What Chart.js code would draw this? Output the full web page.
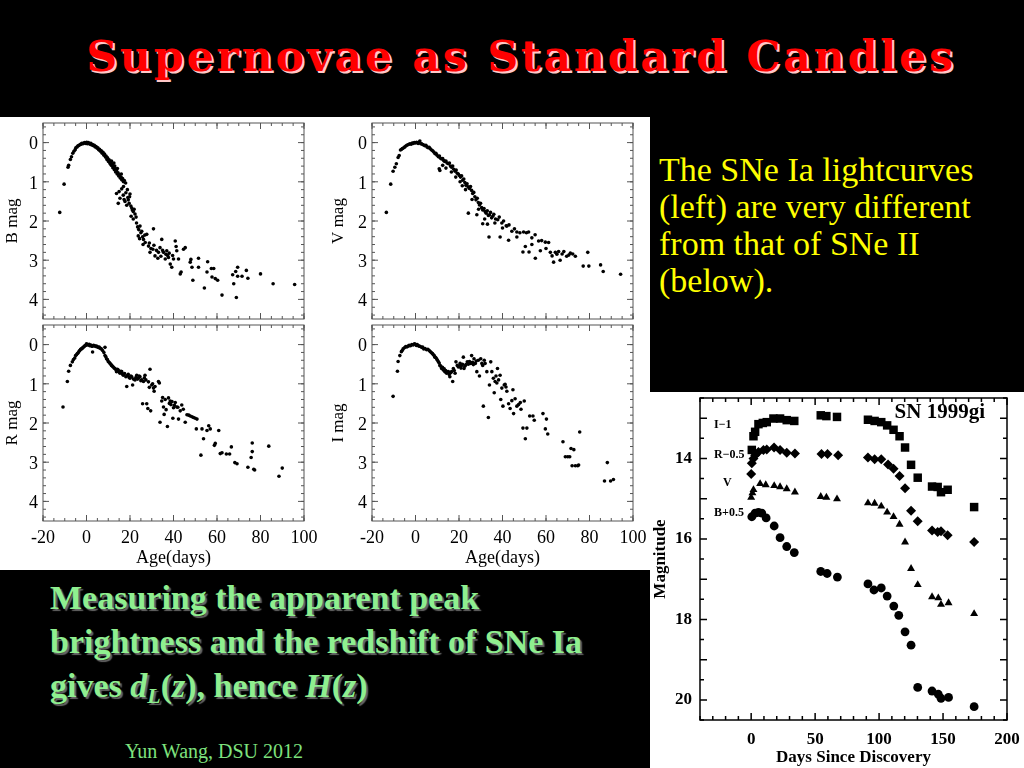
<!DOCTYPE html>
<html>
<head>
<meta charset="utf-8">
<script src="https://cdn.jsdelivr.net/npm/chart.js@4.4.1/dist/chart.umd.min.js"></script>
<style>
  body { margin: 0; width: 1024px; height: 768px; background: #000; position: relative; overflow: hidden; }
  canvas, div { position: absolute; }
  #title { left: 9px; top: 31px; width: 1024px; text-align: center; font-family: "DejaVu Serif", serif; font-weight: bold; font-size: 43px; letter-spacing: 2.6px; color: #ff0000; text-shadow: 2px 2px 0 #ffc8c8; white-space: nowrap; }
  #leftBg { left: 0; top: 117px; width: 650px; height: 453px; background: #fff; }
  #snBg { left: 650px; top: 392px; width: 374px; height: 376px; background: #fff; }
  #note { left: 659px; top: 151px; font-family: "Liberation Serif", "Times New Roman", serif; font-size: 34px; line-height: 37px; color: #ffff00; white-space: nowrap; }
  #green { left: 50px; top: 576px; font-family: "Liberation Serif", "Times New Roman", serif; font-weight: bold; font-size: 34px; line-height: 44px; color: #8fef8f; text-shadow: 2px 2px 1px #666; white-space: nowrap; }
  #green sub { font-size: 22px; vertical-align: -6px; line-height: 0; }
  #footer { left: 125px; top: 741px; font-family: "Liberation Serif", "Times New Roman", serif; font-size: 20px; line-height: 20px; color: #7ee27e; white-space: nowrap; }
</style>
</head>
<body>
<div id="title">Supernovae as Standard Candles</div>
<div id="leftBg"></div>
<div id="snBg"></div>
<canvas id="panelB" width="326" height="206" style="left:0;top:117px"></canvas>
<canvas id="panelV" width="324" height="206" style="left:326px;top:117px"></canvas>
<canvas id="panelR" width="326" height="249" style="left:0;top:321px"></canvas>
<canvas id="panelI" width="324" height="249" style="left:326px;top:321px"></canvas>
<canvas id="sn1999gi" width="374" height="376" style="left:650px;top:392px"></canvas>
<div id="note">The SNe Ia lightcurves<br>(left) are very different<br>from that of SNe II<br>(below).</div>
<div id="green">Measuring the apparent peak<br>brightness and the redshift of SNe Ia<br>gives <i>d<sub>L</sub></i>(<i>z</i>), hence <i>H</i>(<i>z</i>)</div>
<div id="footer">Yun Wang, DSU 2012</div>
<script>
// SNe Ia light curves: [age in days, mag relative to peak]
const bandB = [[-12.3,1.78],[-10.3,1.06],[-8.5,0.63],[-8.2,0.58],[-7.4,0.43],[-6.9,0.36],[-6.3,0.27],[-5.8,0.22],[-5.2,0.18],[-4.9,0.13],[-4.3,0.11],[-3.9,0.08],[-3.4,0.07],[-2.9,0.05],[-2.5,0.04],[-2.1,0.02],[-1.6,0.03],[-1.2,0.01],[-0.8,0.0],[-0.3,0.02],[0.1,-0.01],[0.4,0.03],[0.8,0.0],[1.2,0.02],[1.6,0.04],[2.0,0.02],[2.4,0.06],[2.8,0.05],[3.2,0.08],[3.6,0.07],[4.0,0.11],[4.4,0.1],[4.8,0.14],[5.2,0.13],[5.6,0.18],[6.0,0.17],[6.4,0.22],[6.8,0.21],[7.2,0.27],[7.6,0.25],[8.0,0.32],[8.3,0.29],[8.7,0.37],[9.0,0.34],[9.4,0.43],[9.7,0.39],[10.1,0.48],[10.4,0.44],[10.8,0.53],[11.1,0.5],[11.4,0.58],[11.8,0.55],[12.1,0.64],[12.4,0.6],[12.8,0.69],[13.1,0.66],[13.4,0.75],[13.8,0.72],[14.1,0.8],[14.5,0.77],[14.8,0.85],[15.2,0.82],[15.5,0.9],[15.9,0.88],[16.2,0.95],[16.6,0.92],[17.0,1.0],[17.4,0.97],[13.0,0.6],[14.2,0.66],[11.5,0.47],[12.6,0.52],[16.0,0.8],[18.0,1.03],
  [13.8,1.3],[14.6,1.55],[15.4,1.42],[16.2,1.18],[16.9,1.34],[17.3,1.45],[17.7,1.5],[18.1,1.28],[18.5,1.6],[19.0,1.4],[19.2,1.46],[19.6,1.55],[20.0,1.31],[20.4,1.62],[20.8,1.67],[21.1,1.72],[21.5,1.76],[21.9,1.7],[22.3,1.82],[20.5,1.88],[21.5,1.95],[22.8,1.9],[18.8,1.2],[15.0,1.25],[17.0,1.12],[19.8,1.38],
  [23.0,2.05],[23.5,2.15],[24.0,2.22],[24.6,2.13],[25.0,2.3],[25.4,2.26],[23.8,2.38],[24.4,2.45],[25.8,2.4],[26.2,2.47],[26.8,2.36],[27.7,2.34],[30.8,2.2],[28.5,2.64],[28.9,2.56],[29.2,2.8],[29.6,2.7],[30.5,2.72],[31.0,2.62],[31.5,2.89],[32.2,2.75],[33.1,2.8],[33.8,2.68],[34.6,2.47],[35.0,2.75],[35.4,2.8],[36.2,2.97],[36.5,2.85],[36.9,2.76],[37.3,2.88],[37.7,2.93],[38.5,3.1],[39.2,3.18],[39.6,2.88],[40.0,2.97],[40.8,2.51],[41.2,2.65],[41.5,2.76],[42.3,2.97],[43.1,3.35],[43.5,3.3],[44.6,2.72],[45.4,2.68],[47.7,3.05],[48.0,2.98],[48.5,3.18],[48.9,3.51],[51.5,2.95],[51.5,3.18],[54.2,3.71],[55.7,3.04],[55.4,3.3],[57.4,3.21],[58.5,3.21],[57.7,3.43],[59.2,3.47],[60.3,3.51],[62.3,3.89],[67.2,3.37],[67.7,3.6],[68.6,3.29],[69.5,3.18],[68.9,3.95],[69.5,3.41],[71.5,3.41],[73.5,3.26],[74.2,3.46],[80.0,3.35],[85.8,3.6],[95.7,3.62],[27.0,2.55],[26.0,2.6],[32.8,2.95],[34.2,2.9],[38.0,2.82]];

const bandV = [[-13.4,1.78],[-11.4,1.06],[-10.3,0.73],[-9.5,0.63],[-8.8,0.54],[-8.0,0.38],[-7.5,0.33],[-6.9,0.19],[-6.4,0.17],[-6.0,0.15],[-5.4,0.13],[-4.9,0.11],[-4.3,0.08],[-3.8,0.06],[-3.2,0.05],[-2.6,0.03],[-2.0,0.04],[-1.5,0.01],[-1.1,0.02],[-0.5,0.0],[0.0,0.01],[0.5,-0.01],[1.2,0.02],[1.6,-0.01],[2.0,-0.04],[2.4,0.03],[2.8,0.03],[3.3,0.05],[3.8,0.06],[4.3,0.08],[4.8,0.07],[5.3,0.11],[5.8,0.13],[6.3,0.12],[6.8,0.16],[7.4,0.19],[7.9,0.21],[8.4,0.24],[8.9,0.28],[9.4,0.27],[9.9,0.32],[10.5,0.36],[11.0,0.34],[11.5,0.4],[12.0,0.42],[12.5,0.41],[13.0,0.46],[13.5,0.48],[14.0,0.47],[14.5,0.52],[15.1,0.54],[15.6,0.52],[16.1,0.6],[16.6,0.63],[17.1,0.6],[17.6,0.68],[18.2,0.73],[18.7,0.7],[19.2,0.78],[19.7,0.8],[20.2,0.84],[20.7,0.88],[21.2,0.85],[21.7,0.96],[22.2,0.93],[22.7,1.02],[23.2,1.09],[23.7,1.05],[24.2,1.13],[24.8,1.17],[25.3,1.12],[25.8,1.22],[26.3,1.3],[26.8,1.27],[27.3,1.38],[27.8,1.46],[28.4,1.42],[28.9,1.53],[29.4,1.59],[29.9,1.55],[30.4,1.66],[30.9,1.72],[31.5,1.68],[32.0,1.76],[32.5,1.8],[33.0,1.74],[33.5,1.86],[34.0,1.84],[34.5,1.78],[35.0,1.92],[35.5,1.88],[36.0,1.83],[36.8,1.95],[37.8,1.97],[38.5,1.9],[39.7,2.05],[40.5,2.0],[42.0,2.13],[43.0,2.1],[44.3,2.26],[45.5,2.2],[46.6,2.28],[48.0,2.3],[49.7,2.28],[51.0,2.3],[52.0,2.28],[53.5,2.43],[55.0,2.35],[56.6,2.51],[58.0,2.5],[59.7,2.54],[61.2,2.55],[62.0,2.8],[62.8,2.89],[63.5,3.05],[64.3,2.8],[65.0,2.85],[65.8,2.78],[66.5,3.0],[67.4,2.84],[68.2,2.78],[69.5,2.9],[70.5,2.87],[71.2,2.82],[72.3,2.84],[73.5,2.9],[77.1,3.15],[79.2,2.8],[79.7,3.15],[85.1,3.12],[86.3,3.29],[94.3,3.36],
  [10.9,0.67],[11.2,0.71],[12.5,0.58],[14.0,0.65],[16.5,0.75],[18.5,0.88],[20.5,1.0],[21.5,1.1],[23.0,1.2],[24.3,1.8],[26.0,1.45],[28.2,1.84],[29.0,1.7],[30.9,2.07],[31.8,1.95],[33.1,2.08],[33.8,2.41],[36.5,2.05],[38.9,2.41],[40.0,2.18],[41.7,2.12],[42.8,2.49],[46.6,2.41],[49.4,2.79],[50.5,2.65],[52.2,2.79],[53.5,2.6],[55.1,2.95],[57.4,2.76],[60.0,2.7]];

const bandR = [[-10.8,1.59],[-8.8,0.94],[-8.2,0.68],[-7.4,0.53],[-6.5,0.44],[-6.0,0.38],[-5.4,0.34],[-5.0,0.28],[-4.6,0.26],[-4.2,0.23],[-3.8,0.21],[-3.4,0.17],[-3.1,0.15],[-2.7,0.12],[-2.3,0.11],[-1.9,0.09],[-1.5,0.07],[-1.1,0.05],[-0.8,0.03],[-0.4,0.02],[0.0,-0.02],[0.4,0.0],[0.8,0.01],[1.2,-0.01],[1.5,0.03],[2.0,0.01],[2.4,0.04],[2.8,0.04],[2.8,0.19],[3.3,0.02],[3.8,0.03],[4.2,0.05],[4.6,0.04],[5.0,0.06],[5.4,0.07],[5.8,0.06],[6.2,0.09],[6.8,0.11],[7.4,0.15],[8.0,0.2],[8.5,0.07],[8.5,0.28],[8.9,0.31],[9.2,0.36],[9.6,0.38],[10.0,0.43],[10.4,0.45],[10.8,0.48],[11.2,0.5],[11.5,0.53],[11.9,0.55],[12.3,0.57],[12.7,0.6],[13.1,0.61],[13.5,0.64],[13.8,0.69],[14.2,0.63],[14.6,0.65],[15.0,0.7],[15.4,0.73],[15.8,0.68],[16.2,0.69],[16.6,0.75],[16.9,0.78],[17.5,0.74],[18.1,0.82],[18.5,1.07],[18.8,0.79],[19.2,0.76],[19.6,0.84],[20.0,0.86],[20.4,0.8],[20.8,0.82],[21.2,1.03],[21.6,0.88],[22.3,0.9],[22.7,0.84],[23.1,0.78],[23.5,0.88],[23.8,0.86],[24.2,0.8],[24.6,0.82],[25.0,0.92],[25.4,0.9],[25.8,1.51],[26.2,0.94],[26.6,0.85],[26.9,0.78],[27.3,0.9],[27.7,1.51],[28.2,1.63],[28.5,0.95],[28.9,1.09],[29.2,0.63],[29.5,1.69],[30.0,1.03],[30.4,1.0],[30.8,1.11],[31.1,1.19],[31.5,1.07],[33.1,0.94],[33.5,0.98],[33.8,1.98],[34.6,1.44],[35.0,1.35],[35.4,1.59],[35.7,1.78],[36.2,1.4],[36.6,1.66],[37.2,2.09],[37.7,1.36],[38.1,1.5],[38.5,1.44],[38.8,1.53],[39.3,1.45],[39.7,1.88],[40.0,1.61],[40.4,1.55],[40.8,1.48],[41.5,1.59],[42.0,1.6],[42.3,1.9],[43.1,1.69],[43.8,1.54],[44.5,1.65],[45.4,1.98],[46.2,1.79],[47.0,1.8],[47.7,1.82],[48.5,1.84],[49.2,1.86],[50.0,1.88],[50.5,2.15],[50.8,1.9],[52.6,2.82],[53.1,2.15],[53.8,2.4],[55.4,2.19],[56.2,2.07],[56.9,2.15],[58.8,2.57],[59.2,2.52],[60.8,2.19],[61.5,2.78],[62.3,2.76],[64.3,2.79],[65.8,2.79],[66.6,2.61],[68.2,3.01],[69.2,3.04],[74.2,3.13],[75.7,2.88],[76.2,2.51],[76.2,2.73],[76.9,3.18],[77.3,3.2],[83.8,2.59],[88.5,3.36],[90.0,3.15]];

const bandI = [[-10.3,1.32],[-8.3,0.68],[-8.0,0.43],[-7.2,0.28],[-6.5,0.18],[-6.1,0.15],[-5.7,0.11],[-5.1,0.08],[-4.5,0.05],[-4.0,0.06],[-3.4,0.04],[-2.9,0.02],[-2.3,0.03],[-1.7,0.0],[-1.1,0.01],[-0.5,-0.02],[0.0,-0.01],[0.4,0.02],[0.8,0.0],[1.3,0.03],[1.7,0.04],[2.2,0.05],[2.8,0.07],[3.3,0.06],[3.8,0.11],[4.4,0.1],[5.1,0.13],[5.7,0.12],[6.3,0.15],[6.8,0.18],[7.4,0.21],[7.8,0.23],[8.2,0.26],[8.6,0.28],[8.9,0.32],[9.3,0.33],[9.7,0.36],[10.1,0.4],[10.5,0.44],[10.9,0.47],[11.2,0.53],[11.6,0.55],[12.0,0.61],[12.4,0.58],[12.8,0.65],[13.2,0.62],[13.5,0.69],[13.9,0.66],[14.3,0.73],[14.7,0.7],[15.1,0.69],[15.5,0.76],[15.8,0.82],[16.2,0.72],[16.6,0.69],[17.1,0.94],[17.4,0.61],[17.8,0.66],[18.2,0.73],[18.6,0.44],[19.2,0.53],[19.7,0.57],[20.1,0.55],[20.5,0.48],[20.9,0.6],[21.2,0.53],[21.6,0.5],[22.0,0.32],[22.3,0.61],[22.7,0.55],[23.2,0.51],[23.8,0.44],[24.3,0.5],[24.8,0.43],[25.4,0.48],[25.8,0.28],[26.2,0.45],[26.6,0.51],[26.9,0.36],[27.5,0.48],[27.9,0.42],[28.2,0.69],[28.9,0.4],[29.4,0.8],[30.0,0.36],[30.5,0.48],[30.9,0.53],[31.2,1.57],[31.6,0.4],[32.0,0.48],[32.8,0.69],[33.5,1.86],[34.0,1.03],[34.6,0.44],[35.1,0.69],[35.8,0.86],[36.2,1.23],[36.6,0.94],[37.0,0.8],[37.4,0.98],[37.7,0.61],[38.2,0.9],[38.9,0.78],[39.2,1.4],[39.7,1.11],[40.2,1.57],[40.8,1.03],[41.2,1.01],[41.6,1.08],[42.0,1.19],[42.8,1.51],[43.5,1.63],[44.3,1.43],[44.8,1.15],[45.1,1.76],[45.8,1.38],[46.6,1.57],[47.4,1.53],[48.2,1.48],[48.5,1.65],[49.4,2.13],[50.0,1.44],[50.5,2.4],[51.2,2.13],[52.5,1.82],[54.0,1.82],[54.6,1.93],[58.6,1.76],[59.7,2.15],[60.2,1.9],[60.8,2.28],[67.8,2.48],[68.9,2.86],[70.0,2.86],[70.9,2.86],[71.5,2.65],[72.8,2.68],[72.0,3.09],[73.5,3.09],[74.6,3.09],[75.0,3.07],[75.5,2.23],[86.9,3.48],[89.7,3.48],[88.2,3.01],[91.0,3.44]];

const iaXTicks = [-20, 0, 20, 40, 60, 80, 100];
const iaYTicks = [0, 1, 2, 3, 4];

// SN 1999gi (type II-P): [days since discovery, magnitude]
const snI = [[0.5,13.79],[1.8,13.45],[3.1,13.34],[5.7,13.15],[9.1,13.12],[12.2,13.1],[17.4,13.01],[22.6,13.01],[27.8,13.05],[33.7,13.07],[54.4,12.93],[58.8,12.95],[67.1,12.97],[91.3,13.04],[96.5,13.07],[101.7,13.1],[106.3,13.18],[111.3,13.29],[116.0,13.45],[120.3,13.73],[125.0,14.16],[130.2,14.48],[141.4,14.7],[145.8,14.71],[148.4,14.84],[153.6,14.78],[174.3,15.21]];
const snR = [[0.0,14.39],[0.5,14.12],[1.8,14.0],[3.1,13.92],[5.7,13.84],[9.6,13.79],[12.2,13.78],[17.9,13.73],[22.6,13.79],[27.8,13.86],[34.2,13.88],[55.0,13.89],[59.7,13.89],[68.0,13.92],[91.3,13.98],[96.5,14.02],[101.7,14.02],[107.0,14.15],[111.3,14.26],[116.0,14.44],[120.3,14.74],[125.0,15.3],[130.2,15.56],[141.4,15.79],[145.8,15.83],[148.4,15.81],[153.6,15.91],[174.3,16.08]];
const snV = [[0.0,14.97],[1.0,14.86],[1.8,14.78],[7.0,14.63],[11.4,14.66],[18.0,14.68],[22.6,14.71],[27.8,14.76],[34.2,14.84],[54.4,14.95],[58.8,14.97],[67.1,15.01],[91.3,15.11],[96.5,15.12],[101.7,15.19],[106.3,15.34],[111.3,15.45],[116.0,15.64],[120.3,16.08],[125.0,16.74],[130.2,17.14],[141.4,17.44],[146.3,17.47],[148.4,17.63],[154.3,17.59],[174.3,17.86]];
const snB = [[0.5,15.45],[3.1,15.36],[5.7,15.34],[8.3,15.36],[11.7,15.48],[18.0,15.68],[22.6,15.97],[27.8,16.19],[33.7,16.34],[54.4,16.81],[59.4,16.86],[67.4,16.95],[91.3,17.12],[96.0,17.27],[101.7,17.22],[106.3,17.42],[111.5,17.67],[115.4,17.9],[120.3,18.31],[125.0,18.64],[130.2,19.69],[141.4,19.78],[146.3,19.86],[148.4,19.96],[154.3,19.94],[174.3,20.17]];
const snLabels = ['I\u22121', 'R\u22120.5', 'V', 'B+0.5'];
const snXTicks = [0, 50, 100, 150, 200];
const snYTicks = [14, 16, 18, 20];

Chart.defaults.font.family = "'Liberation Serif', 'Times New Roman', serif";
Chart.defaults.color = '#000';

// box round the plot with inward ticks on all four sides
const frameTicks = {
  id: 'frameTicks',
  afterDraw(chart, args, opts) {
    const { ctx, chartArea: a, scales: { x, y } } = chart;
    ctx.save();
    ctx.strokeStyle = opts.color;
    ctx.lineWidth = opts.width;
    ctx.beginPath();
    const mark = (s, step, len) => {
      const first = Math.ceil(s.min / step - 1e-9);
      const last = Math.floor(s.max / step + 1e-9);
      for (let i = first; i <= last; i++) {
        const p = s.getPixelForValue(i * step);
        if (s.axis === 'x') {
          ctx.moveTo(p, a.bottom); ctx.lineTo(p, a.bottom - len);
          ctx.moveTo(p, a.top); ctx.lineTo(p, a.top + len);
        } else {
          ctx.moveTo(a.left, p); ctx.lineTo(a.left + len, p);
          ctx.moveTo(a.right, p); ctx.lineTo(a.right - len, p);
        }
      }
    };
    mark(x, opts.xMinor, opts.minorLen);
    mark(x, opts.xMajor, opts.majorLen);
    mark(y, opts.yMinor, opts.minorLen);
    mark(y, opts.yMajor, opts.majorLen);
    ctx.stroke();
    ctx.strokeRect(a.left, a.top, a.right - a.left, a.bottom - a.top);
    ctx.restore();
  }
};

// fixed axis boxes so the plot areas line up with the slide
const fixX = h => s => { s.height = h; s.paddingLeft = 0; s.paddingRight = 0; };
const fixY = w => s => { s.width = w; s.paddingTop = 0; s.paddingBottom = 0; };

function iaPanel(id, points, yTitle, showX, yWidth, padRight) {
  return new Chart(id, {
    type: 'scatter',
    data: {
      datasets: [{
        data: points.map(p => ({ x: p[0], y: p[1] })),
        pointRadius: 1.8,
        pointBorderWidth: 0,
        pointBackgroundColor: '#000'
      }]
    },
    options: {
      responsive: false,
      animation: false,
      events: [],
      layout: { padding: { top: showX ? 1 : 6, bottom: showX ? 0 : 1, left: 0, right: padRight } },
      plugins: {
        legend: { display: false },
        tooltip: { enabled: false },
        frameTicks: { color: '#555', width: 1, xMajor: 20, xMinor: 5, yMajor: 1, yMinor: 0.2, majorLen: 6, minorLen: 3 }
      },
      scales: {
        x: {
          type: 'linear', min: -20, max: 100, display: showX,
          grid: { display: false, drawTicks: false }, border: { display: false },
          afterBuildTicks: s => { s.ticks = iaXTicks.map(v => ({ value: v })); },
          afterFit: fixX(showX ? 49 : 0),
          ticks: { font: { size: 18 }, padding: 6, autoSkip: false, maxRotation: 0 },
          title: { display: true, text: 'Age(days)', font: { size: 18 }, padding: { top: 0, bottom: 1 } }
        },
        y: {
          type: 'linear', min: -0.5, max: 4.5, reverse: true,
          grid: { display: false, drawTicks: false }, border: { display: false },
          afterBuildTicks: s => { s.ticks = iaYTicks.map(v => ({ value: v })); },
          afterFit: fixY(yWidth),
          ticks: { font: { size: 18 }, padding: 5, autoSkip: false, labelOffset: 2 },
          title: { display: true, text: yTitle, font: { size: 17 }, padding: { top: 2, bottom: 0 } }
        }
      }
    },
    plugins: [frameTicks]
  });
}

iaPanel('panelB', bandB, 'B mag', false, 43, 22);
iaPanel('panelV', bandV, 'V mag', false, 46, 17);
iaPanel('panelR', bandR, 'R mag', true, 43, 22);
iaPanel('panelI', bandI, 'I mag', true, 46, 17);

// band names and object name inside the SN 1999gi plot
const snText = {
  id: 'snText',
  afterDraw(chart) {
    const { ctx, scales: { x, y } } = chart;
    ctx.save();
    ctx.fillStyle = '#000';
    ctx.textBaseline = 'middle';
    ctx.font = "bold 12px 'Liberation Serif'";
    ctx.textAlign = 'left';
    const spots = [[-29, 13.17], [-29, 13.91], [-22, 14.6], [-29, 15.36]];
    snLabels.forEach((t, i) => ctx.fillText(t, x.getPixelForValue(spots[i][0]), y.getPixelForValue(spots[i][1])));
    ctx.font = "bold 21px 'Liberation Serif'";
    ctx.textAlign = 'right';
    ctx.fillText('SN 1999gi', chart.chartArea.right - 22, chart.chartArea.top + 15);
    ctx.restore();
  }
};

const toXY = arr => arr.map(p => ({ x: p[0], y: p[1] }));

new Chart('sn1999gi', {
  type: 'scatter',
  data: {
    datasets: [
      { label: 'I-1', data: toXY(snI), pointStyle: 'rect', pointRadius: 6, pointBorderWidth: 0, pointBackgroundColor: '#000' },
      { label: 'R-0.5', data: toXY(snR), pointStyle: 'rectRot', pointRadius: 5, pointBorderWidth: 0, pointBackgroundColor: '#000' },
      { label: 'V', data: toXY(snV), pointStyle: 'triangle', pointRadius: 4.6, pointBorderWidth: 0, pointBackgroundColor: '#000' },
      { label: 'B+0.5', data: toXY(snB), pointStyle: 'circle', pointRadius: 4.4, pointBorderWidth: 0, pointBackgroundColor: '#000' }
    ]
  },
  options: {
    responsive: false,
    animation: false,
    events: [],
    layout: { padding: { top: 4, right: 17, left: 0, bottom: 0 } },
    plugins: {
      legend: { display: false },
      tooltip: { enabled: false },
      frameTicks: { color: '#000', width: 1.5, xMajor: 50, xMinor: 10, yMajor: 1, yMinor: 0.5, majorLen: 7, minorLen: 4 }
    },
    scales: {
      x: {
        type: 'linear', min: -40, max: 200,
        grid: { display: false, drawTicks: false }, border: { display: false },
        afterBuildTicks: s => { s.ticks = snXTicks.map(v => ({ value: v })); },
        afterFit: fixX(48),
        ticks: { font: { size: 17, weight: 'bold' }, padding: 9, autoSkip: false, maxRotation: 0 },
        title: { display: true, text: 'Days Since Discovery', font: { size: 17, weight: 'bold' }, padding: { top: 0, bottom: 0 } }
      },
      y: {
        type: 'linear', min: 12.5, max: 20.5, reverse: true,
        grid: { display: false, drawTicks: false }, border: { display: false },
        afterBuildTicks: s => { s.ticks = snYTicks.map(v => ({ value: v })); },
        afterFit: fixY(50),
        ticks: { font: { size: 17, weight: 'bold' }, padding: 8, autoSkip: false },
        title: { display: true, text: 'Magnitude', font: { size: 17, weight: 'bold' }, padding: { top: 0, bottom: 0 } }
      }
    }
  },
  plugins: [frameTicks, snText]
});
</script>
</body>
</html>
